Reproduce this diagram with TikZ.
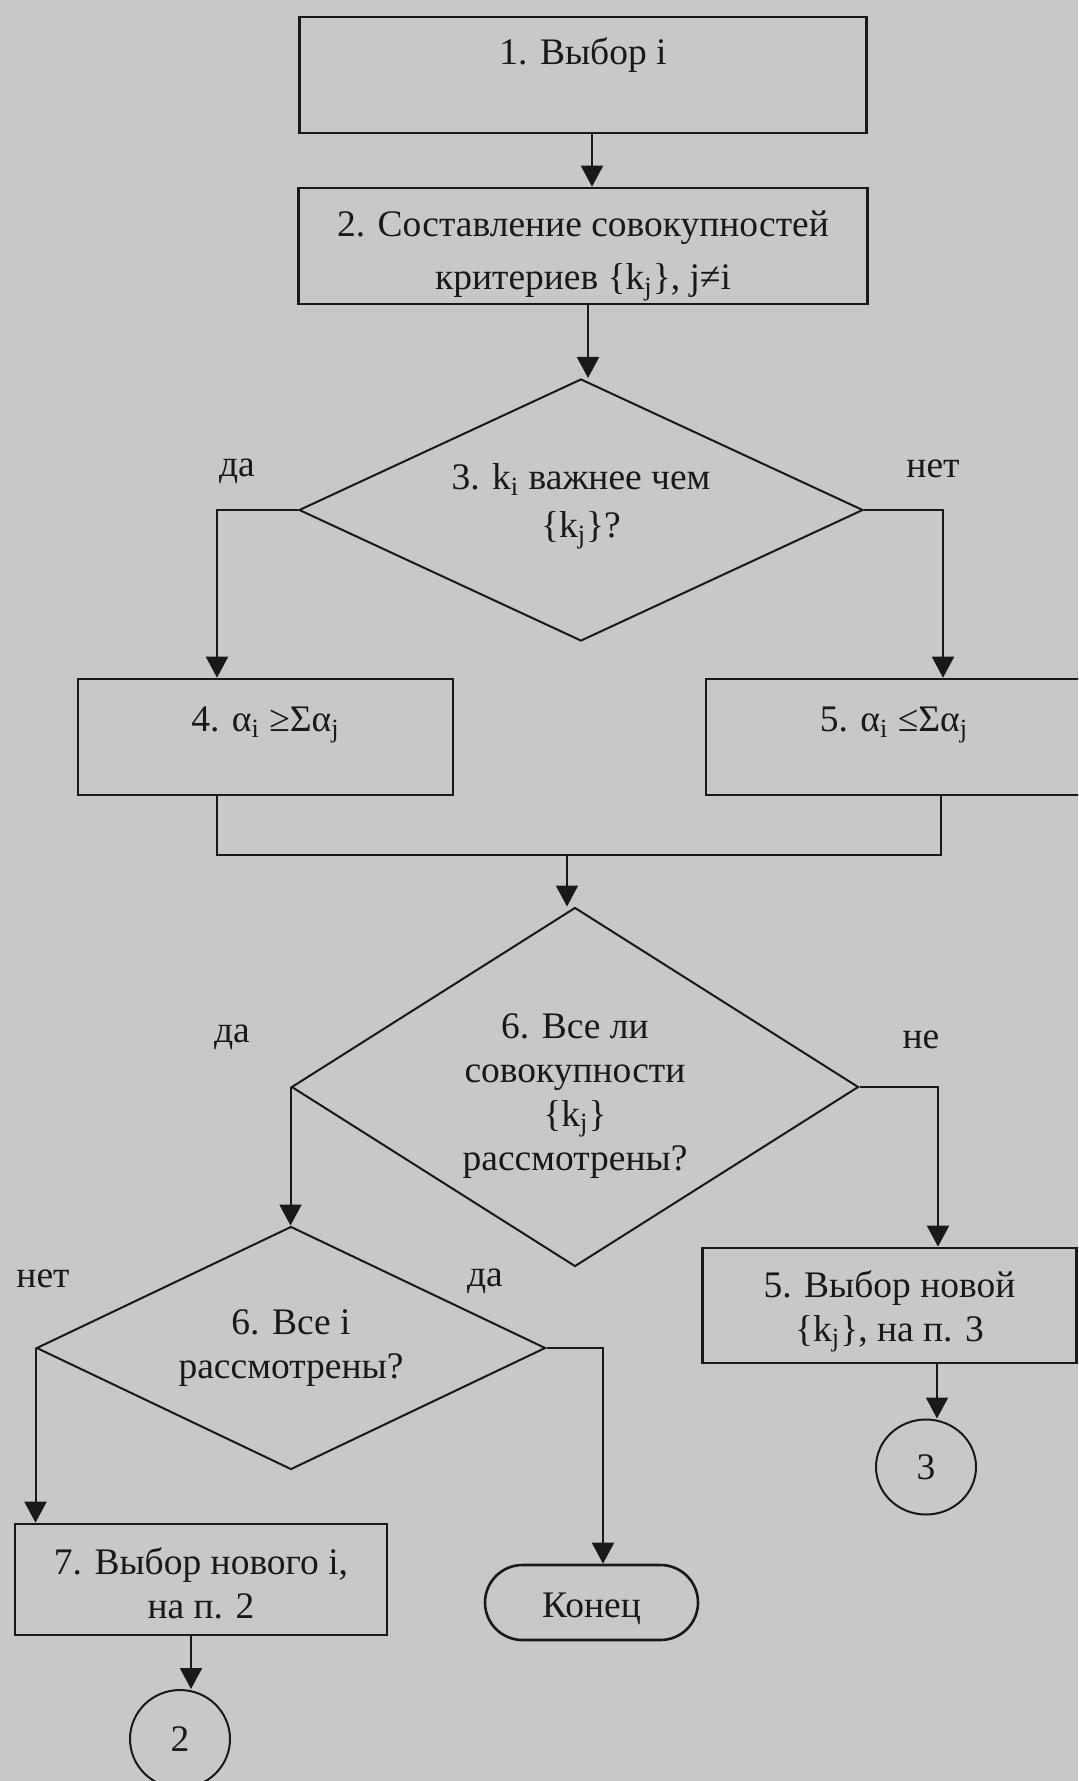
\documentclass[tikz,border=0pt]{standalone}
\usepackage{fontspec}
\setmainfont{Liberation Serif}
\usetikzlibrary{arrows.meta,shapes.geometric,shapes.misc}
\definecolor{paper}{RGB}{200,200,200}
\definecolor{ink}{RGB}{25,25,25}
\newcommand\fsz{\fontsize{18.75pt}{22pt}\selectfont}
\newcommand\ssb[1]{\textsubscript{#1}}
\begin{document}
\begin{tikzpicture}[x=0.5pt,y=-0.5pt,
  every node/.style={font=\fsz, text=ink},
  box/.style={draw=ink, line width=1.3pt, rectangle, inner sep=0pt},
  dia/.style={draw=ink, line width=1pt, diamond, inner sep=0pt},
  term/.style={draw=ink, line width=1.3pt, rounded rectangle, inner sep=0pt},
  conn/.style={draw=ink, line width=1pt, ellipse, inner sep=0pt},
  arr/.style={draw=ink, line width=1pt, -{Triangle[width=11pt,length=10.5pt]}},
  ln/.style={draw=ink, line width=1pt},
  lbl/.style={align=center, inner sep=0pt}]
\clip (0,0) rectangle (1078,1781);
\fill[paper] (0,0) rectangle (1078,1781);

% shapes
\node[box, minimum width=283.5pt, minimum height=58pt] (b1) at (583,75) {};
\node[box, minimum width=284.5pt, minimum height=58pt] (b2) at (583,246) {};
\node[dia, minimum width=282pt, minimum height=131pt] (d3) at (581,510) {};
\node[box, minimum width=187.5pt, minimum height=58pt] (b4) at (265.5,737) {};
\node[box, minimum width=188pt, minimum height=58pt] (b5) at (894,737) {};
\node[dia, minimum width=283.5pt, minimum height=179.5pt] (d6) at (575,1087) {};
\node[dia, minimum width=254.5pt, minimum height=121.5pt] (d6b) at (291,1348) {};
\node[box, minimum width=187pt, minimum height=57.5pt] (b5b) at (889.5,1305.5) {};
\node[box, minimum width=186pt, minimum height=55.5pt] (b7) at (201,1579.5) {};
\node[term, minimum width=106.5pt, minimum height=37.5pt] (kon) at (591.5,1602.5) {};
\node[conn, minimum width=50pt, minimum height=47.5pt] (c3) at (926,1467) {3};
\node[conn, minimum width=50pt, minimum height=49pt] (c2) at (180,1739) {2};

% texts inside shapes
\node[lbl] (t1) at ([yshift=10pt]b1.center) {1. Выбор i};
\node[lbl] (t2) at ([yshift=-5pt]b2.center) {2. Составление совокупностей\\[4.5pt]критериев \{k\ssb{j}\}, j≠i};
\node[lbl] (t3) at ([yshift=1.8pt]d3.center) {3. k\ssb{i} важнее чем\\[2pt]\{k\ssb{j}\}?};
\node[lbl] (t4) at ([yshift=6pt]b4.center) {4. α\ssb{i} ≥Σα\ssb{j}};
\node[lbl] (t5) at ([yshift=6pt]b5.center) {5. α\ssb{i} ≤Σα\ssb{j}};
\node[lbl] (t6) at ([yshift=-4.5pt]d6.center) {6. Все ли\\совокупности\\\{k\ssb{j}\}\\рассмотрены?};
\node[lbl] (t6b) at ([yshift=0pt]d6b.center) {6. Все i\\рассмотрены?};
\node[lbl] (t5b) at ([yshift=-3pt]b5b.center) {5. Выбор новой\\\{k\ssb{j}\}, на п. 3};
\node[lbl] (t7) at ([yshift=-2pt]b7.center) {7. Выбор нового i,\\на п. 2};
\node[lbl] (t8) at ([yshift=-3pt]kon.center) {Конец};

% branch labels
\node[lbl] (l1) at (237,471) {да};
\node[lbl] (l2) at (933,469) {нет};
\node[lbl] (l3) at (232,1037) {да};
\node[lbl] (l4) at (921,1040) {не};
\node[lbl] (l5) at (43,1279) {нет};
\node[lbl] (l6) at (485,1281) {да};

% connectors
\coordinate (a1) at ([xshift=4.5pt]b1.south);
\draw[arr] (a1) -- (a1 |- b2.north);
\coordinate (a2) at ([xshift=2.5pt]b2.south);
\draw[arr] (a2) -- (a2 |- d3.north);
\coordinate (a3) at ([xshift=-24.25pt]b4.north);
\draw[arr] (d3.west) -| (a3);
\coordinate (a4) at ([xshift=24.5pt]b5.north);
\draw[arr] (d3.east) -| (a4);
\coordinate (j) at (567,855);
\draw[ln] ([xshift=-24.25pt]b4.south) |- (j) -| ([xshift=23.5pt]b5.south);
\draw[arr] (j) -- (j |- d6.north);
\draw[arr] (d6.west) -- (d6.west |- d6b.north);
\coordinate (a5) at ([xshift=24.25pt]b5b.north);
\draw[arr] (d6.east) -| (a5);
\draw[arr] (d6b.west) -- (d6b.west |- b7.north);
\coordinate (a6) at ([xshift=5.75pt]kon.north);
\draw[arr] (d6b.east) -| (a6);
\coordinate (a7) at ([xshift=-5pt]b7.south);
\draw[arr] (a7) -- (a7 |- c2.north);
\coordinate (a8) at ([xshift=23.75pt]b5b.south);
\draw[arr] (a8) -- (a8 |- c3.north);
\end{tikzpicture}
\end{document}
